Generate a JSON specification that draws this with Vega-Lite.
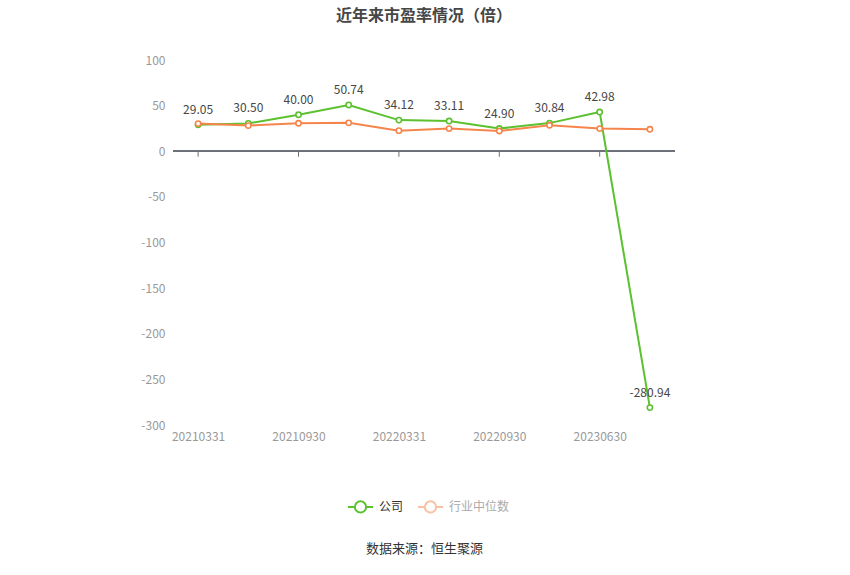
{
  "$schema": "https://vega.github.io/schema/vega-lite/v6.json",
  "width": 502,
  "height": 365,
  "autosize": "none",
  "padding": {"left": 173, "top": 60, "right": 175, "bottom": 150},
  "background": "#ffffff",
  "title": {
    "text": "近年来市盈率情况（倍）",
    "fontSize": 16,
    "fontWeight": "bold",
    "color": "#464646",
    "anchor": "middle",
    "frame": "group",
    "offset": 30
  },
  "data": {
    "values": [
      {"date": "20210331", "series": "公司", "value": 29.05},
      {"date": "20210630", "series": "公司", "value": 30.50},
      {"date": "20210930", "series": "公司", "value": 40.00},
      {"date": "20211231", "series": "公司", "value": 50.74},
      {"date": "20220331", "series": "公司", "value": 34.12},
      {"date": "20220630", "series": "公司", "value": 33.11},
      {"date": "20220930", "series": "公司", "value": 24.90},
      {"date": "20221231", "series": "公司", "value": 30.84},
      {"date": "20230630", "series": "公司", "value": 42.98},
      {"date": "20230930", "series": "公司", "value": -280.94},
      {"date": "20210331", "series": "行业中位数", "value": 30.3},
      {"date": "20210630", "series": "行业中位数", "value": 28.1},
      {"date": "20210930", "series": "行业中位数", "value": 30.7},
      {"date": "20211231", "series": "行业中位数", "value": 31.1},
      {"date": "20220331", "series": "行业中位数", "value": 22.6},
      {"date": "20220630", "series": "行业中位数", "value": 24.8},
      {"date": "20220930", "series": "行业中位数", "value": 22.2},
      {"date": "20221231", "series": "行业中位数", "value": 28.5},
      {"date": "20230630", "series": "行业中位数", "value": 24.8},
      {"date": "20230930", "series": "行业中位数", "value": 24.1}
    ]
  },
  "encoding": {
    "x": {
      "field": "date",
      "type": "ordinal",
      "scale": {"type": "point", "padding": 0.5},
      "axis": {
        "values": ["20210331", "20210930", "20220331", "20220930", "20230630"],
        "labelAngle": 0,
        "labelColor": "#999999",
        "labelFontSize": 12,
        "labelPadding": 6,
        "domain": false,
        "ticks": false,
        "grid": false,
        "title": "数据来源：恒生聚源",
        "titleFontSize": 13,
        "titleFontWeight": "normal",
        "titleColor": "#333333",
        "titlePadding": 100
      }
    }
  },
  "layer": [
    {
      "mark": {"type": "rule", "color": "#6E7079", "strokeWidth": 1},
      "encoding": {"x": null, "y": {"datum": 0, "type": "quantitative"}}
    },
    {
      "transform": [
        {"filter": "datum.series === '公司'"},
        {"filter": {"field": "date", "oneOf": ["20210331", "20210930", "20220331", "20220930", "20230630"]}}
      ],
      "mark": {"type": "rule", "color": "#6E7079", "strokeWidth": 1},
      "encoding": {
        "y": {"datum": 0, "type": "quantitative"},
        "y2": {"datum": -6}
      }
    },
    {
      "mark": {
        "type": "line",
        "strokeWidth": 2,
        "point": {"filled": false, "fill": "#ffffff", "size": 28, "strokeWidth": 1.6}
      },
      "encoding": {
        "y": {
          "field": "value",
          "type": "quantitative",
          "scale": {"domain": [-300, 100], "nice": false},
          "axis": {
            "values": [-300, -250, -200, -150, -100, -50, 0, 50, 100],
            "title": null,
            "domain": false,
            "ticks": false,
            "labelColor": "#999999",
            "labelFontSize": 12,
            "labelPadding": 8,
            "gridColor": "#E0E6F1"
          }
        },
        "color": {
          "field": "series",
          "type": "nominal",
          "scale": {"domain": ["公司", "行业中位数"], "range": ["#5BC12E", "#F5854C"]},
          "legend": {
            "title": null,
            "orient": "none",
            "direction": "horizontal",
            "legendX": 174,
            "legendY": 433,
            "padding": 0,
            "columnPadding": 10,
            "labelOffset": 5,
            "labelFontSize": 12,
            "labelColor": "#333333",
            "symbolType": "M-1,0H-0.45M0.45,0H1M0.45,0A0.45,0.45,0,1,1,-0.45,0A0.45,0.45,0,1,1,0.45,0",
            "symbolSize": 625,
            "symbolStrokeWidth": 2,
            "symbolFillColor": "#ffffff",
            "encode": {
              "symbols": {"update": {"opacity": {"signal": "datum.value === '行业中位数' ? 0.5 : 1"}}},
              "labels": {"update": {"fill": {"signal": "datum.value === '行业中位数' ? '#aaaaaa' : '#333333'"}}}
            }
          }
        }
      }
    },
    {
      "transform": [{"filter": "datum.series === '公司'"}],
      "mark": {"type": "text", "dy": -15, "fontSize": 12, "color": "#464646", "baseline": "middle"},
      "encoding": {
        "y": {"field": "value", "type": "quantitative"},
        "text": {"field": "value", "type": "quantitative", "format": ".2f"}
      }
    }
  ],
  "config": {
    "font": "Noto Sans CJK SC",
    "view": {"stroke": null},
    "locale": {
      "number": {"decimal": ".", "thousands": ",", "grouping": [3], "currency": ["$", ""], "minus": "-"}
    }
  }
}
